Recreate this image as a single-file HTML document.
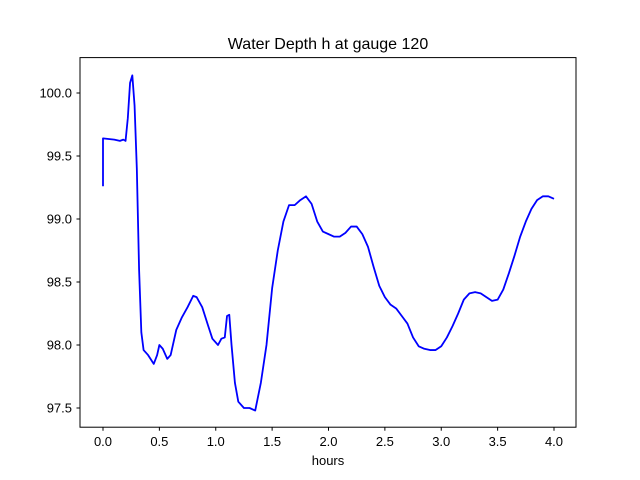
<!DOCTYPE html>
<html><head><meta charset="utf-8"><style>
body{margin:0;background:#fff;}
svg{display:block;font-family:"Liberation Sans","DejaVu Sans",sans-serif;}
</style></head><body>
<svg id="chart" width="640" height="480" viewBox="0 0 640 480">
<rect width="640" height="480" fill="#fff"/>
<text x="328" y="49" text-anchor="middle" font-size="16">Water Depth h at gauge 120</text>
<g id="xt"></g>
<g id="yt"></g>
<polyline id="line" fill="none" stroke="#0000ff" stroke-width="1.8" stroke-linejoin="round"/>
<rect x="80" y="57.6" width="496" height="369.6" fill="none" stroke="#000" stroke-width="1"/>
<text x="328" y="465" text-anchor="middle" font-size="13">hours</text>
</svg>
<script>
const hours=[0,0,0.1,0.15,0.18,0.2,0.22,0.24,0.26,0.28,0.3,0.32,0.34,0.36,0.4,0.45,0.48,0.5,0.53,0.57,0.6,0.65,0.7,0.75,0.8,0.83,0.88,0.93,0.97,1.02,1.05,1.08,1.1,1.12,1.14,1.17,1.2,1.25,1.3,1.35,1.4,1.45,1.5,1.55,1.6,1.65,1.7,1.75,1.8,1.85,1.9,1.95,2.0,2.05,2.1,2.15,2.2,2.25,2.3,2.35,2.4,2.45,2.5,2.55,2.6,2.65,2.7,2.75,2.8,2.85,2.9,2.95,3.0,3.05,3.1,3.15,3.2,3.25,3.3,3.35,3.4,3.45,3.5,3.55,3.6,3.65,3.7,3.75,3.8,3.85,3.9,3.95,4.0];
const depth=[99.26,99.64,99.63,99.62,99.63,99.62,99.8,100.08,100.14,99.9,99.4,98.6,98.1,97.96,97.92,97.85,97.92,98.0,97.97,97.89,97.92,98.12,98.22,98.3,98.39,98.38,98.3,98.16,98.05,98.0,98.05,98.06,98.23,98.24,98.0,97.7,97.55,97.5,97.5,97.48,97.7,98.0,98.45,98.75,98.98,99.11,99.11,99.15,99.18,99.12,98.98,98.9,98.88,98.86,98.86,98.89,98.94,98.94,98.88,98.78,98.62,98.47,98.38,98.32,98.29,98.23,98.17,98.06,97.99,97.97,97.96,97.96,97.99,98.06,98.15,98.25,98.36,98.41,98.42,98.41,98.38,98.35,98.36,98.44,98.57,98.71,98.86,98.98,99.08,99.15,99.18,99.18,99.16];
const xTicks=[0,0.5,1,1.5,2,2.5,3,3.5,4];
const xTickLabels=["0.0","0.5","1.0","1.5","2.0","2.5","3.0","3.5","4.0"];
const yTicks=[97.5,98,98.5,99,99.5,100];
const yTickLabels=["97.5","98.0","98.5","99.0","99.5","100.0"];
const X=v=>103+v*112.75, Y=v=>93+(100-v)*126;
const NS="http://www.w3.org/2000/svg";
const xt=document.getElementById('xt'), yt=document.getElementById('yt');
xTicks.forEach((v,i)=>{
 const l=document.createElementNS(NS,'line');
 
 
 l.setAttribute('x1',X(v));l.setAttribute('x2',X(v));l.setAttribute('y1',427.2);l.setAttribute('y2',430.7);l.setAttribute('stroke','#000');
 xt.appendChild(l);
 const t=document.createElementNS(NS,'text');
 
 
 t.setAttribute('x',X(v));t.setAttribute('y',446);t.setAttribute('text-anchor','middle');t.setAttribute('font-size','13');
 t.textContent=xTickLabels[i];xt.appendChild(t);
});
yTicks.forEach((v,i)=>{
 const l=document.createElementNS(NS,'line');
 
 
 l.setAttribute('x1',76.5);l.setAttribute('x2',80);l.setAttribute('y1',Y(v));l.setAttribute('y2',Y(v));l.setAttribute('stroke','#000');
 yt.appendChild(l);
 const t=document.createElementNS(NS,'text');
 
 
 t.setAttribute('x',72);t.setAttribute('y',Y(v)+4.5);t.setAttribute('text-anchor','end');t.setAttribute('font-size','13');
 t.textContent=yTickLabels[i];yt.appendChild(t);
});
document.getElementById('line').setAttribute('points',hours.map((h,i)=>X(h)+','+Y(depth[i])).join(' '));
</script>
</body></html>
